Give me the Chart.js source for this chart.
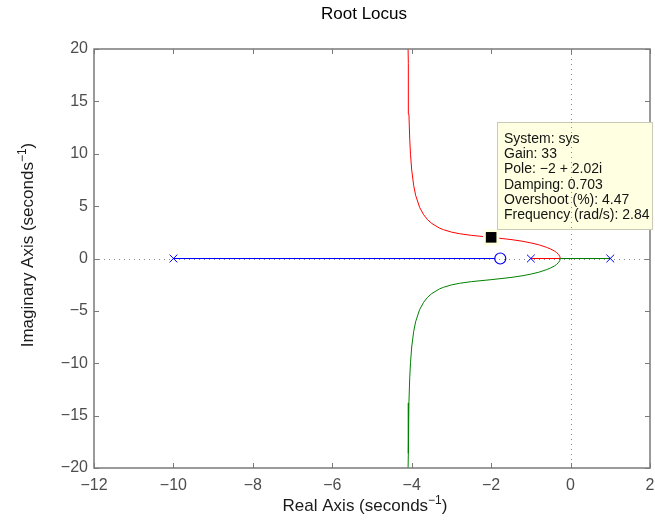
<!DOCTYPE html>
<html>
<head>
<meta charset="utf-8">
<script src="https://cdn.jsdelivr.net/npm/chart.js@4.4.0/dist/chart.umd.min.js"></script>
<style>
  html, body { margin: 0; padding: 0; background: #fff; }
</style>
</head>
<body>
<canvas id="rlocus" width="655" height="522"></canvas>
<script>
// open-loop poles and zero of sys
const poleRe = [-10, -1, 1];
const poleIm = [0, 0, 0];
const zeroRe = [-1.77];
const zeroIm = [0];

// branch: pole at -10 -> zero
const blueRe = [-10, -1.9];
const blueIm = [0, 0];

// branch: pole at -1 -> breakaway -> upper asymptote
const redRe = [-1, -0.261, -0.27, -0.3, -0.35, -0.4, -0.5, -0.6, -0.8, -1.0, -1.2, -1.5, -2.0, -2.5, -2.8, -3.0, -3.2, -3.3, -3.5, -3.6, -3.7, -3.8, -3.9, -3.95, -4.0, -4.03, -4.05, -4.07, -4.08, -4.09, -4.095];
const redIm = [0, 0, 0.18, 0.37, 0.56, 0.70, 0.90, 1.06, 1.31, 1.49, 1.64, 1.81, 2.02, 2.21, 2.37, 2.52, 2.75, 2.90, 3.36, 3.70, 4.18, 4.87, 6.02, 6.96, 8.45, 9.91, 11.39, 13.78, 15.66, 18.6, 20.8];

// branch: pole at 1 -> breakaway -> lower asymptote
const greenRe = [1, -0.261, -0.27, -0.3, -0.35, -0.4, -0.5, -0.6, -0.8, -1.0, -1.2, -1.5, -2.0, -2.5, -2.8, -3.0, -3.2, -3.3, -3.5, -3.6, -3.7, -3.8, -3.9, -3.95, -4.0, -4.03, -4.05, -4.07, -4.08, -4.09, -4.095];
const greenIm = [0, 0, -0.18, -0.37, -0.56, -0.70, -0.90, -1.06, -1.31, -1.49, -1.64, -1.81, -2.02, -2.21, -2.37, -2.52, -2.75, -2.90, -3.36, -3.70, -4.18, -4.87, -6.02, -6.96, -8.45, -9.91, -11.39, -13.78, -15.66, -18.6, -20.8];

// data tip
const tipRe = [-2];
const tipIm = [2.02];
const tipLines = ['System: sys', 'Gain: 33', 'Pole: \u22122 + 2.02i', 'Damping: 0.703', 'Overshoot (%): 4.47', 'Frequency (rad/s): 2.84'];

const xTicks = [-12, -10, -8, -6, -4, -2, 0, 2];
const yTicks = [-20, -15, -10, -5, 0, 5, 10, 15, 20];

const FONT = '"Liberation Sans", Arial, Helvetica, sans-serif';
const AXIS_COL = '#7a7a7a';
const TICK_COL = '#4d4d4d';

function pts(xs, ys) {
	return xs.map((x, i) => ({ x: x, y: ys[i] }));
}

function fmt(v) {
	return String(v).replace('-', '\u2212');
}

// text with a superscript part, centred on (0,0) along the baseline
function drawSupLabel(ctx, base, sup, tail, size) {
	ctx.font = size + 'px ' + FONT;
	const w1 = ctx.measureText(base).width;
	const w3 = ctx.measureText(tail).width;
	ctx.font = Math.round(size * 0.7) + 'px ' + FONT;
	const w2 = ctx.measureText(sup).width;
	let x = -(w1 + w2 + w3) / 2;
	ctx.textAlign = 'left';
	ctx.textBaseline = 'alphabetic';
	ctx.font = size + 'px ' + FONT;
	ctx.fillText(base, x, 0);
	x += w1;
	ctx.font = Math.round(size * 0.7) + 'px ' + FONT;
	ctx.fillText(sup, x, -size * 0.42);
	x += w2;
	ctx.font = size + 'px ' + FONT;
	ctx.fillText(tail, x, 0);
}

const matlabAxes = {
	id: 'matlabAxes',
	beforeDatasetsDraw(chart) {
		const ctx = chart.ctx, a = chart.chartArea;
		const xs = chart.scales.x, ys = chart.scales.y;
		ctx.save();
		ctx.strokeStyle = '#8c8c8c';
		ctx.lineWidth = 1;
		ctx.setLineDash([1, 4]);
		const x0 = Math.round(xs.getPixelForValue(0)) + 0.5;
		const y0 = Math.round(ys.getPixelForValue(0)) + 0.5;
		ctx.beginPath();
		ctx.moveTo(x0, a.top); ctx.lineTo(x0, a.bottom);
		ctx.moveTo(a.left, y0); ctx.lineTo(a.right, y0);
		ctx.stroke();
		ctx.restore();
	},
	afterDatasetsDraw(chart) {
		const ctx = chart.ctx, a = chart.chartArea;
		const xs = chart.scales.x, ys = chart.scales.y;
		ctx.save();
		// axes box
		ctx.strokeStyle = AXIS_COL;
		ctx.lineWidth = 1.5;
		ctx.strokeRect(a.left, a.top, a.right - a.left, a.bottom - a.top);
		// inward ticks on all four sides
		ctx.lineWidth = 1;
		ctx.beginPath();
		xTicks.forEach(v => {
			const px = Math.round(xs.getPixelForValue(v)) + 0.5;
			ctx.moveTo(px, a.bottom); ctx.lineTo(px, a.bottom - 5);
			ctx.moveTo(px, a.top); ctx.lineTo(px, a.top + 5);
		});
		yTicks.forEach(v => {
			const py = Math.round(ys.getPixelForValue(v)) + 0.5;
			ctx.moveTo(a.left, py); ctx.lineTo(a.left + 5, py);
			ctx.moveTo(a.right, py); ctx.lineTo(a.right - 5, py);
		});
		ctx.stroke();

		// data tip box
		const bx = 497, by = 122, bw = 156, bh = 108;
		ctx.fillStyle = '#ffffe1';
		ctx.fillRect(bx, by, bw, bh);
		ctx.strokeStyle = '#c9c9b5';
		ctx.strokeRect(bx + 0.5, by + 0.5, bw - 1, bh - 1);
		ctx.fillStyle = '#141414';
		ctx.font = '14px ' + FONT;
		ctx.textAlign = 'left';
		ctx.textBaseline = 'alphabetic';
		tipLines.forEach((t, i) => ctx.fillText(t, bx + 7, by + 21 + i * 15.2));
		// zero line still shows through the tip
		ctx.strokeStyle = '#8c8c8c';
		ctx.setLineDash([1, 4]);
		const x0 = Math.round(xs.getPixelForValue(0)) + 0.5;
		ctx.beginPath();
		ctx.moveTo(x0, by); ctx.lineTo(x0, by + bh);
		ctx.stroke();
		ctx.restore();
	},
	afterDraw(chart) {
		const ctx = chart.ctx;
		ctx.save();
		ctx.fillStyle = '#000';
		ctx.font = '17px ' + FONT;
		ctx.textAlign = 'center';
		ctx.textBaseline = 'alphabetic';
		ctx.fillText('Root Locus', 364, 19);

		ctx.fillStyle = '#1a1a1a';
		ctx.save();
		ctx.translate(365, 511);
		drawSupLabel(ctx, 'Real Axis (seconds', '\u22121', ')', 17);
		ctx.restore();

		ctx.save();
		ctx.translate(33, 245);
		ctx.rotate(-Math.PI / 2);
		drawSupLabel(ctx, 'Imaginary Axis (seconds', '\u22121', ')', 17);
		ctx.restore();
		ctx.restore();
	}
};

const lineDs = (xs, ys, color, order) => ({
	data: pts(xs, ys),
	showLine: true,
	borderColor: color,
	borderWidth: 1,
	pointRadius: 0,
	fill: false,
	tension: 0,
	order: order,
});

// lower order is drawn on top
new Chart(document.getElementById('rlocus'), {
	type: 'scatter',
	data: {
		datasets: [
			lineDs(blueRe, blueIm, '#0000ff', 7),
			lineDs(redRe, redIm, '#ff0000', 6),
			lineDs(greenRe, greenIm, '#008000', 5),
			{
				data: pts(poleRe, poleIm),
				pointStyle: 'crossRot',
				pointRadius: 5.5,
				borderColor: '#0000ff',
				borderWidth: 1,
				order: 4,
			},
			{
				data: pts(zeroRe, zeroIm),
				pointStyle: 'circle',
				pointRadius: 5.5,
				borderColor: '#0000ff',
				backgroundColor: 'rgba(0,0,0,0)',
				borderWidth: 1.2,
				order: 3,
			},
			{
				data: pts(tipRe, tipIm),
				pointStyle: 'rect',
				pointRadius: 11.5,
				borderWidth: 0,
				backgroundColor: '#ffffe1',
				order: 2,
			},
			{
				data: pts(tipRe, tipIm),
				pointStyle: 'rect',
				pointRadius: 7.5,
				borderWidth: 0,
				backgroundColor: '#000000',
				order: 1,
			},
		],
	},
	options: {
		responsive: false,
		animation: false,
		events: [],
		layout: { autoPadding: false, padding: { left: 0, top: 49, right: 5, bottom: 0 } },
		plugins: {
			legend: { display: false },
			tooltip: { enabled: false },
			title: { display: false },
		},
		scales: {
			x: {
				type: 'linear',
				min: -12,
				max: 2,
				grid: { display: false, drawTicks: false },
				border: { display: false },
				afterBuildTicks: s => { s.ticks = xTicks.map(v => ({ value: v })); },
				afterFit: s => { s.height = 54; s.paddingLeft = 0; s.paddingRight = 0; },
				ticks: {
					padding: 8,
					color: TICK_COL,
					font: { family: FONT, size: 16 },
					maxRotation: 0,
					callback: v => fmt(v),
				},
			},
			y: {
				type: 'linear',
				min: -20,
				max: 20,
				grid: { display: false, drawTicks: false },
				border: { display: false },
				afterBuildTicks: s => { s.ticks = yTicks.map(v => ({ value: v })); },
				afterFit: s => { s.width = 94; s.paddingTop = 0; s.paddingBottom = 0; },
				ticks: {
					padding: 6,
					color: TICK_COL,
					font: { family: FONT, size: 16 },
					callback: v => fmt(v),
				},
			},
		},
	},
	plugins: [matlabAxes],
});
</script>
</body>
</html>
